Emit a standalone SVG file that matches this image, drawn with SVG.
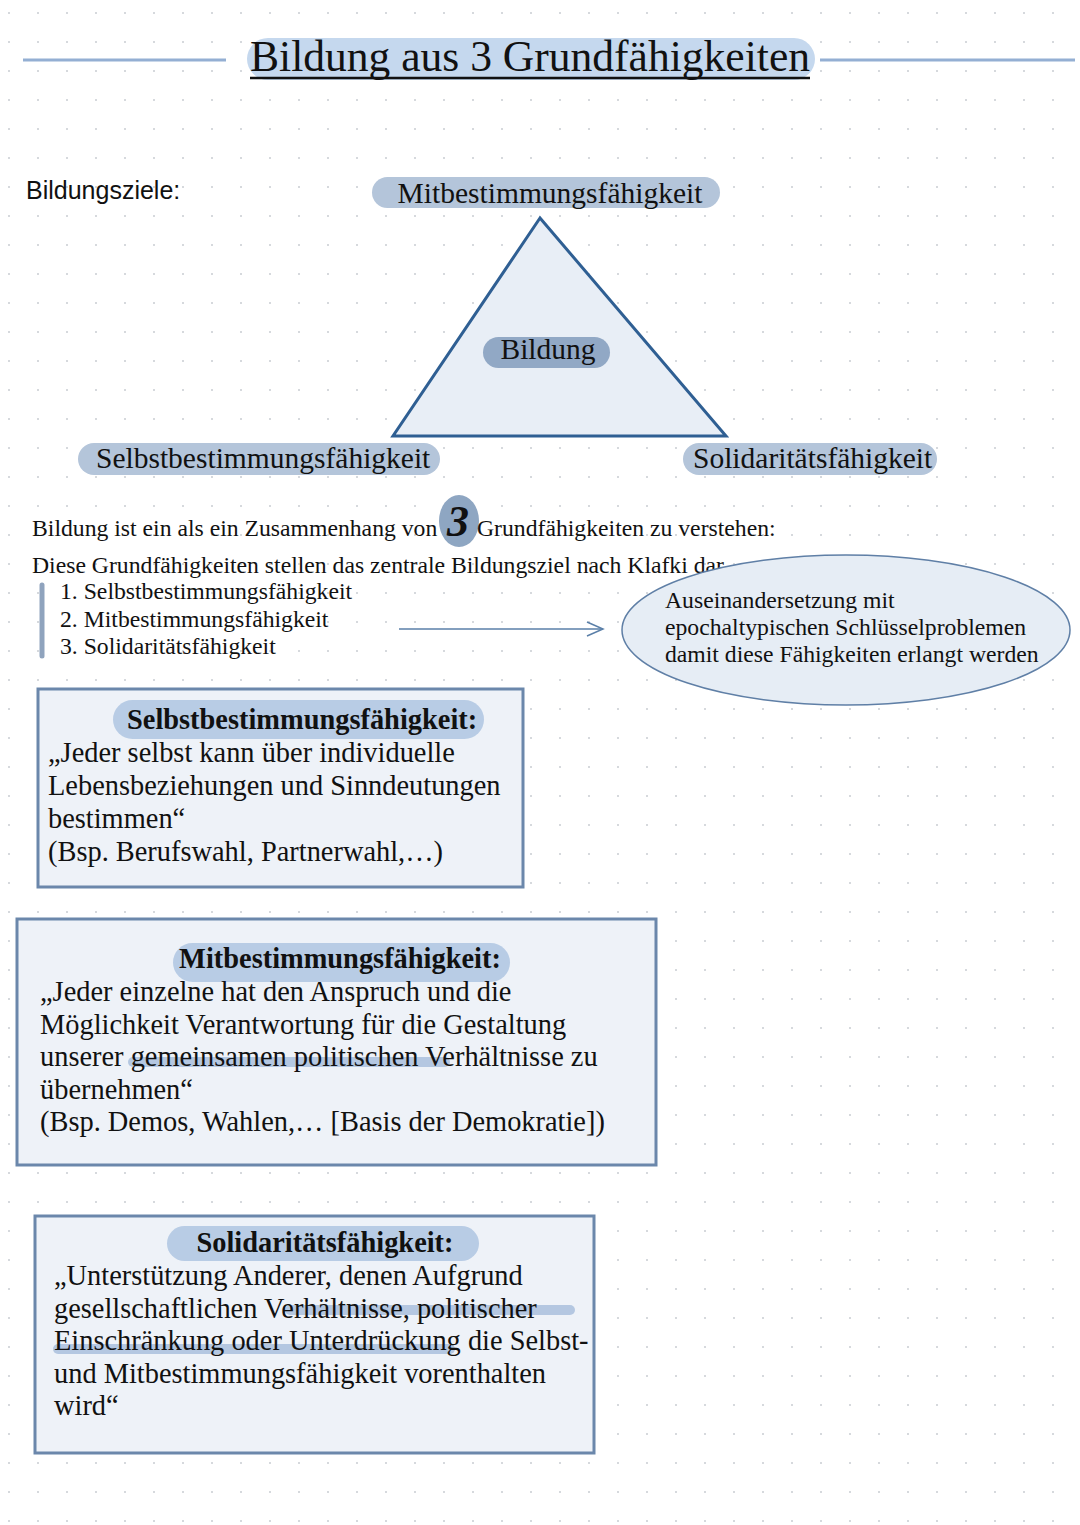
<svg xmlns="http://www.w3.org/2000/svg" width="1080" height="1525" viewBox="0 0 1080 1525">
<defs>
<pattern id="dots" x="8" y="12" width="29" height="29" patternUnits="userSpaceOnUse">
<circle cx="1" cy="1" r="1" fill="#c9ccd2"/>
</pattern>
<marker id="arr" viewBox="0 0 20 20" refX="18" refY="10" markerWidth="20" markerHeight="20" markerUnits="userSpaceOnUse" orient="auto">
<path d="M2,3 L18,10 L2,17" fill="none" stroke="#5a7fa8" stroke-width="1.5"/>
</marker>
<style>
.serif{font-family:"Liberation Serif","Times New Roman",serif;fill:#111}
.sans{font-family:"Liberation Sans",Arial,sans-serif;fill:#111}
.pill{fill:#b4c5da}
.hpill{fill:#b8cce5}
.box{fill:#eef2f8;stroke:#6b87ab;stroke-width:3}
.hl{stroke:#a9c0dd;stroke-width:10;stroke-linecap:round;fill:none;opacity:0.85}
.side{stroke:#94afd3;stroke-width:3}
.t28{font-size:29.5px}
.t23{font-size:23.7px}
.b28{font-size:28.4px}
.h28{font-size:28.4px;font-weight:bold}
</style>
</defs>
<rect width="1080" height="1525" fill="#ffffff"/>
<rect width="1080" height="1525" fill="url(#dots)"/>

<g id="title">
<line class="side" x1="23" y1="60" x2="226" y2="60"/>
<line class="side" x1="820" y1="60" x2="1075" y2="60"/>
<rect x="247" y="38" width="568" height="42" rx="21" fill="#c5d8ee"/>
<line x1="250" y1="78" x2="810" y2="78" stroke="#111" stroke-width="2.5"/>
<text class="serif" x="250" y="71" font-size="44" textLength="560" lengthAdjust="spacingAndGlyphs">Bildung aus 3 Grundfähigkeiten</text>
</g>

<g id="label-bildungsziele">
<text class="sans" x="26" y="199" font-size="25">Bildungsziele:</text>
</g>

<g id="triangle">
<polygon points="540,218 393,436 726,436" fill="#e8eef6" stroke="#2f5f93" stroke-width="3" stroke-linejoin="miter"/>
</g>

<g id="node-mitbestimmung">
<rect class="pill" x="372" y="177" width="348" height="31" rx="15.5"/>
<text class="serif t28" x="550" y="203" text-anchor="middle">Mitbestimmungsfähigkeit</text>
</g>

<g id="node-bildung">
<rect x="483" y="337" width="127" height="31" rx="15.5" fill="#91a8c5"/>
<text class="serif t28" x="548" y="359" text-anchor="middle">Bildung</text>
</g>

<g id="node-selbstbestimmung">
<rect class="pill" x="78" y="443" width="362" height="32" rx="16"/>
<text class="serif t28" x="96" y="468">Selbstbestimmungsfähigkeit</text>
</g>

<g id="node-solidaritaet">
<rect class="pill" x="683" y="443" width="254" height="32" rx="16"/>
<text class="serif t28" x="693" y="468">Solidaritätsfähigkeit</text>
</g>

<g id="intro">
<ellipse cx="459" cy="521" rx="20" ry="26" fill="#8ea6c2"/>
<text class="serif t23" x="32" y="536">Bildung ist ein als ein Zusammenhang von</text>
<text class="serif" x="458" y="536" font-size="44" font-style="italic" font-weight="bold" text-anchor="middle">3</text>
<text class="serif t23" x="477" y="536">Grundfähigkeiten zu verstehen:</text>
<text class="serif t23" x="32" y="573">Diese Grundfähigkeiten stellen das zentrale Bildungsziel nach Klafki dar</text>
</g>

<g id="list">
<line x1="42" y1="585" x2="42" y2="656" stroke="#8fa3bd" stroke-width="5" stroke-linecap="round"/>
<text class="serif t23" x="60" y="599">1. Selbstbestimmungsfähigkeit</text>
<text class="serif t23" x="60" y="627">2. Mitbestimmungsfähigkeit</text>
<text class="serif t23" x="60" y="654">3. Solidaritätsfähigkeit</text>
</g>

<g id="connectors">
<line x1="399" y1="629" x2="603" y2="629" stroke="#5a7fa8" stroke-width="1.5" marker-end="url(#arr)"/>
</g>

<g id="node-auseinandersetzung">
<ellipse cx="846" cy="630" rx="224" ry="75" fill="#e6edf5" stroke="#5f7fa6" stroke-width="1.5"/>
<text class="serif t23" x="665" y="608">Auseinandersetzung mit</text>
<text class="serif t23" x="665" y="635">epochaltypischen Schlüsselproblemen</text>
<text class="serif t23" x="665" y="662">damit diese Fähigkeiten erlangt werden</text>
</g>

<g id="box-selbstbestimmung">
<rect class="box" x="38" y="689" width="485" height="198"/>
<rect class="hpill" x="113" y="700" width="371" height="39" rx="19.5"/>
<text class="serif h28" x="127" y="729">Selbstbestimmungsfähigkeit:</text>
<text class="serif b28" x="48" y="762">„Jeder selbst kann über individuelle</text>
<text class="serif b28" x="48" y="795">Lebensbeziehungen und Sinndeutungen</text>
<text class="serif b28" x="48" y="828">bestimmen“</text>
<text class="serif b28" x="48" y="861">(Bsp. Berufswahl, Partnerwahl,…)</text>
</g>

<g id="box-mitbestimmung">
<rect class="box" x="17" y="919" width="639" height="246"/>
<rect class="hpill" x="173" y="943" width="337" height="39" rx="19.5"/>
<text class="serif h28" x="340" y="968" text-anchor="middle">Mitbestimmungsfähigkeit:</text>
<line class="hl" x1="133" y1="1062" x2="445" y2="1062"/>
<text class="serif b28" x="40" y="1001">„Jeder einzelne hat den Anspruch und die</text>
<text class="serif b28" x="40" y="1034">Möglichkeit Verantwortung für die Gestaltung</text>
<text class="serif b28" x="40" y="1066">unserer gemeinsamen politischen Verhältnisse zu</text>
<text class="serif b28" x="40" y="1099">übernehmen“</text>
<text class="serif b28" x="40" y="1131">(Bsp. Demos, Wahlen,… [Basis der Demokratie])</text>
</g>

<g id="box-solidaritaet">
<rect class="box" x="35" y="1216" width="559" height="237"/>
<rect class="hpill" x="167" y="1226" width="312" height="35" rx="17.5"/>
<text class="serif h28" x="325" y="1252" text-anchor="middle">Solidaritätsfähigkeit:</text>
<line class="hl" x1="290" y1="1310" x2="570" y2="1310"/>
<line class="hl" x1="58" y1="1349" x2="450" y2="1349"/>
<text class="serif b28" x="54" y="1285">„Unterstützung Anderer, denen Aufgrund</text>
<text class="serif b28" x="54" y="1318">gesellschaftlichen Verhältnisse, politischer</text>
<text class="serif b28" x="54" y="1350">Einschränkung oder Unterdrückung die Selbst-</text>
<text class="serif b28" x="54" y="1383">und Mitbestimmungsfähigkeit vorenthalten</text>
<text class="serif b28" x="54" y="1415">wird“</text>
</g>
</svg>
